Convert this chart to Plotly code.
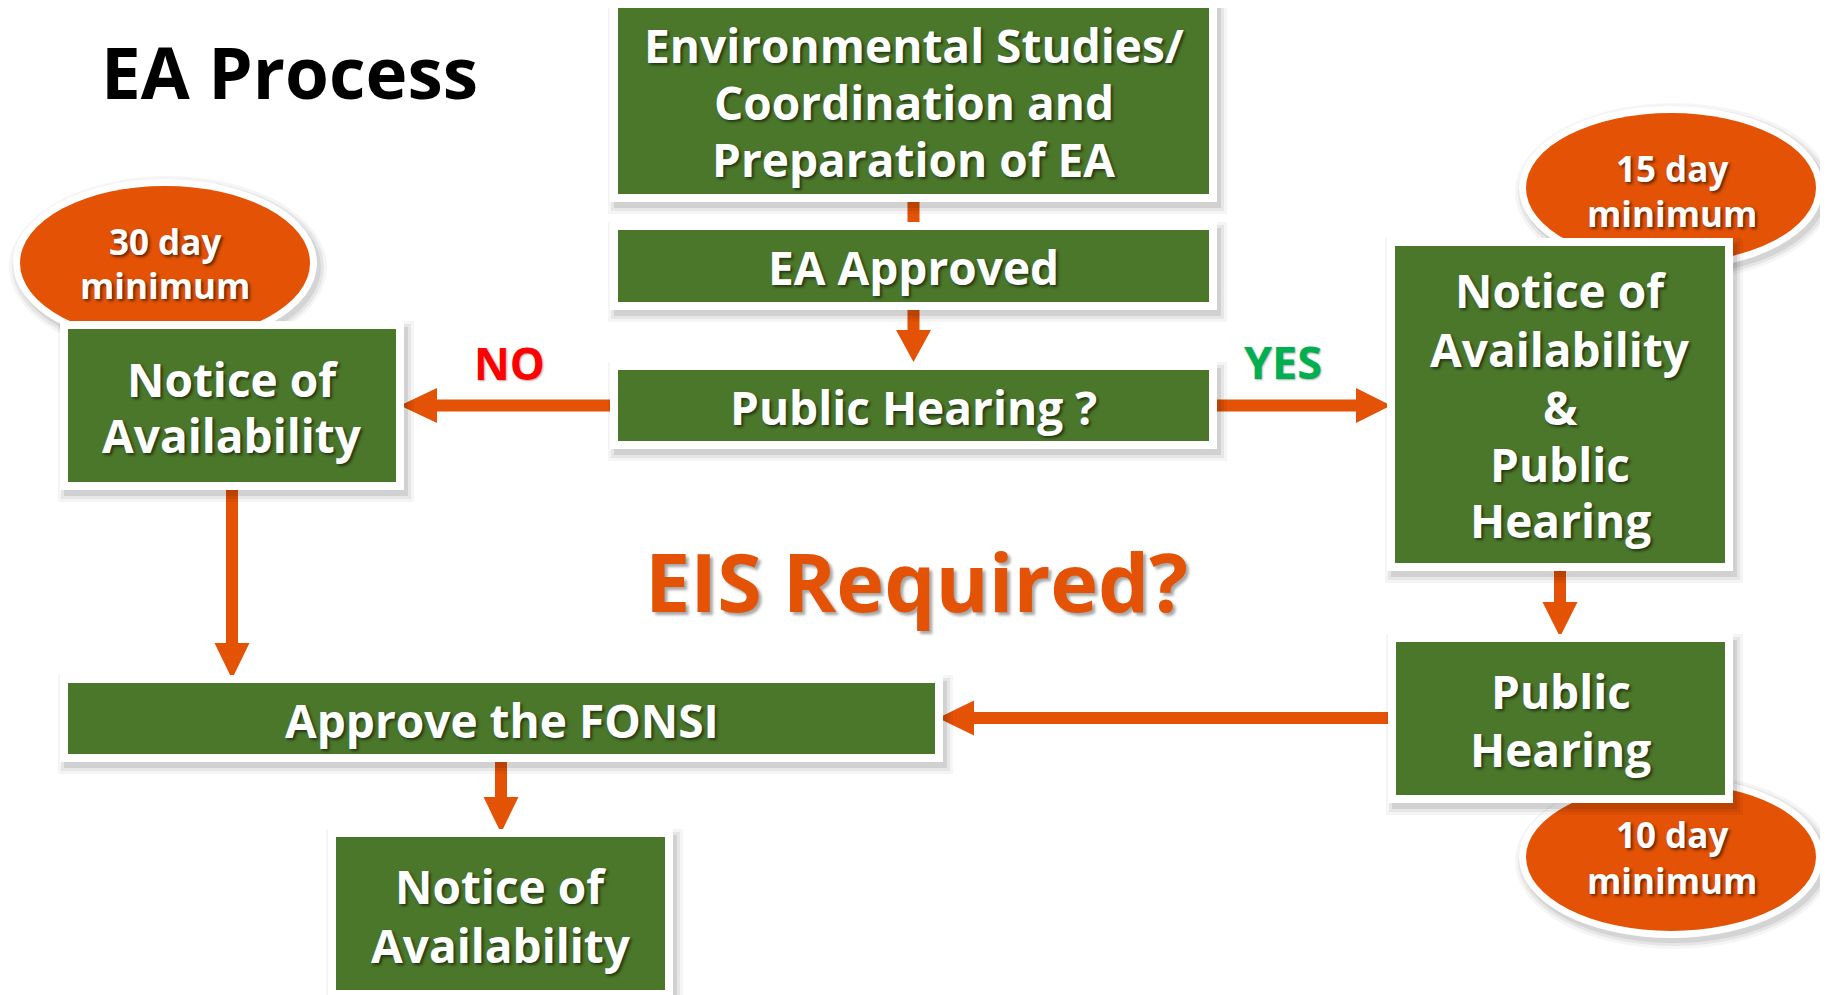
import plotly.graph_objects as go

# ---------------- data ----------------
title_text = "EA Process"
question_text = "EIS Required?"

box_labels = [
    ["Environmental Studies/", "Coordination and", "Preparation of EA"],
    ["EA Approved"],
    ["Public Hearing ?"],
    ["Notice of", "Availability"],
    ["Notice of", "Availability", "&", "Public", "Hearing"],
    ["Public", "Hearing"],
    ["Approve the FONSI"],
    ["Notice of", "Availability"],
]
bubble_labels = [["30 day", "minimum"], ["15 day", "minimum"], ["10 day", "minimum"]]
branch_labels = ["NO", "YES"]

# ---------------- layout geometry ----------------
W, H = 1828, 995
PAGE_MARGIN = 8  # default body margin of the html page
# boxes: x0, x1, y0, y1 (green area)
box_geom = [
    (618, 1209, 7, 194),
    (618, 1209, 230, 302),
    (618, 1209, 370, 441),
    (68, 396, 329, 482),
    (1395, 1725, 246, 563),
    (1396, 1725, 642, 795),
    (68, 935, 683, 754),
    (336, 665, 837, 990),
]
# y positions of each text line (cap-centre)
box_line_y = [
    [44.5, 101.5, 158.5],
    [267],
    [407],
    [378.5, 435],
    [290, 348.5, 407, 463.5, 520],
    [690.5, 749],
    [720],
    [885.5, 944.5],
]
bubble_geom = [(165, 263, 145, 77), (1671, 188, 145, 75), (1671, 857, 145, 74)]
bubble_line_y = [[241, 285.5], [168.5, 213.5], [834.5, 880.5]]
bubble_text_x = [165, 1672, 1672]

# arrows: (orientation, fixed coord, start, head_base, tip)
arrows = [
    ("v", 913.5, 190, 232, None),
    ("v", 913.5, 300, 330, 362),
    ("h", 405.5, 612, 437, 400),
    ("h", 405.5, 1205, 1356, 1391),
    ("v", 232, 480, 643, 679),
    ("v", 1560, 560, 602, 637),
    ("h", 718, 1400, 974, 938),
    ("v", 501, 752, 797, 833),
]

GREEN = "#4B772A"
ORANGE = "#E35205"
FONT = "Open Sans"
SHADOW = "2px 2px 3px rgba(0,0,0,0.55)"

fig = go.Figure()
fig.add_trace(go.Scatter(x=[PAGE_MARGIN, W], y=[PAGE_MARGIN, H], mode="markers",
                         marker=dict(opacity=0), hoverinfo="skip", showlegend=False))

shapes = []
STEM = 6
HEAD = 17.5

# arrows (drawn first, under boxes)
for ori, c, s, b, t in arrows:
    if ori == "v":
        shapes.append(dict(type="rect", xref="x", yref="y", x0=c - STEM, x1=c + STEM,
                           y0=s, y1=b, fillcolor=ORANGE, line=dict(width=0)))
        if t is not None:
            shapes.append(dict(type="path", xref="x", yref="y",
                               path=f"M {c-HEAD},{b} L {c+HEAD},{b} L {c},{t} Z",
                               fillcolor=ORANGE, line=dict(width=0)))
    else:
        shapes.append(dict(type="rect", xref="x", yref="y", x0=min(s, b), x1=max(s, b),
                           y0=c - STEM, y1=c + STEM, fillcolor=ORANGE, line=dict(width=0)))
        shapes.append(dict(type="path", xref="x", yref="y",
                           path=f"M {b},{c-HEAD} L {b},{c+HEAD} L {t},{c} Z",
                           fillcolor=ORANGE, line=dict(width=0)))

# bubbles
for cx, cy, rx, ry in bubble_geom:
    for k, a in [(14, 0.04), (11, 0.06), (8, 0.08)]:
        shapes.append(dict(type="circle", xref="x", yref="y",
                           x0=cx - rx - k + 3, x1=cx + rx + k + 3, y0=cy - ry - k + 4, y1=cy + ry + k + 4,
                           fillcolor=f"rgba(0,0,0,{a})", line=dict(width=0)))
    shapes.append(dict(type="circle", xref="x", yref="y",
                       x0=cx - rx - 7, x1=cx + rx + 7, y0=cy - ry - 7, y1=cy + ry + 7,
                       fillcolor="white", line=dict(width=0)))
    shapes.append(dict(type="circle", xref="x", yref="y",
                       x0=cx - rx, x1=cx + rx, y0=cy - ry, y1=cy + ry,
                       fillcolor=ORANGE, line=dict(width=0)))

# boxes
for x0, x1, y0, y1 in box_geom:
    for k, a in [(14, 0.04), (11, 0.06), (8, 0.09)]:
        shapes.append(dict(type="rect", xref="x", yref="y",
                           x0=x0 - k + 4, x1=x1 + k + 4, y0=y0 - k + 6, y1=y1 + k + 6,
                           fillcolor=f"rgba(0,0,0,{a})", line=dict(width=0)))
    shapes.append(dict(type="rect", xref="x", yref="y",
                       x0=x0 - 8, x1=x1 + 8, y0=y0 - 8, y1=y1 + 8,
                       fillcolor="white", line=dict(width=0)))
    shapes.append(dict(type="rect", xref="x", yref="y",
                       x0=x0, x1=x1, y0=y0, y1=y1,
                       fillcolor=GREEN, line=dict(width=0)))

annotations = []

def add_text(txt, x, y, size, color, shadow=SHADOW):
    annotations.append(dict(x=x, y=y, xref="x", yref="y", text=txt, showarrow=False,
                            xanchor="center", yanchor="middle",
                            font=dict(family=FONT, size=size, color=color,
                                      weight="bold", shadow=shadow)))

for lines, geom, ys in zip(box_labels, box_geom, box_line_y):
    cx = (geom[0] + geom[1]) / 2
    for txt, y in zip(lines, ys):
        add_text(txt, cx, y, 46, "white")

for lines, x, ys in zip(bubble_labels, bubble_text_x, bubble_line_y):
    for txt, y in zip(lines, ys):
        add_text(txt, x, y, 35, "white")

add_text(branch_labels[0], 509.5, 362.5, 44, "#FF0000", "1px 1px 2px rgba(0,0,0,0.35)")
add_text(branch_labels[1], 1283, 361.5, 45, "#00B050", "1px 1px 2px rgba(0,0,0,0.35)")
add_text(question_text, 916.5, 580, 81, ORANGE, "3px 3px 3px rgba(0,0,0,0.35)")
add_text(title_text, 289.5, 71.5, 71, "black", "none")

fig.update_layout(
    width=W - PAGE_MARGIN, height=H - PAGE_MARGIN, margin=dict(l=0, r=0, t=0, b=0),
    paper_bgcolor="white", plot_bgcolor="white",
    xaxis=dict(range=[PAGE_MARGIN, W], visible=False, fixedrange=True),
    yaxis=dict(range=[H, PAGE_MARGIN], visible=False, fixedrange=True),
    shapes=shapes, annotations=annotations, showlegend=False,
)

fig.write_html("out.html", config={"displayModeBar": False})
